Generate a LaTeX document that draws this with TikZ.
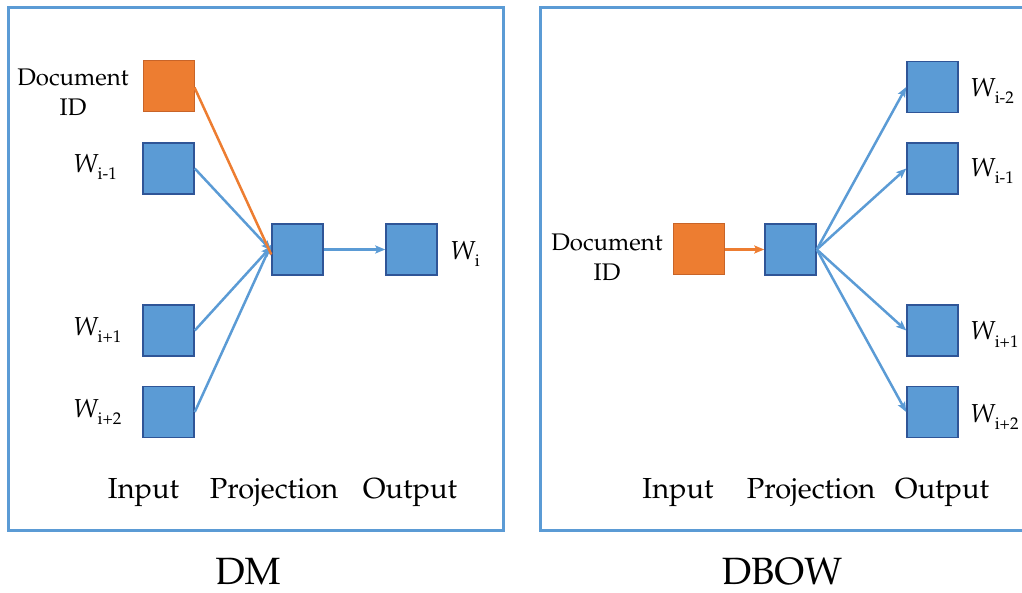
\documentclass[tikz,border=0pt]{standalone}
\usepackage[T1]{fontenc}
\usepackage{mathpazo}
\usetikzlibrary{arrows.meta}
\definecolor{boxblue}{RGB}{91,155,213}
\definecolor{boxedge}{RGB}{47,85,151}
\definecolor{boxorange}{RGB}{237,125,49}
\definecolor{orangeedge}{RGB}{200,100,40}
\definecolor{framecol}{RGB}{91,155,213}
\newcommand{\wlab}[1]{{\fontsize{26}{30}\selectfont\itshape W}\raisebox{-7pt}{\fontsize{17}{20}\selectfont #1}}
\tikzset{
  bluebox/.style={draw=boxedge, fill=boxblue, line width=1.5pt, minimum size=51pt, inner sep=0pt},
  orangebox/.style={draw=orangeedge, fill=boxorange, line width=1pt, minimum size=51pt, inner sep=0pt},
  frame/.style={draw=framecol, line width=3pt},
  bluearrow/.style={draw=boxblue, line width=2.5pt, -{Stealth[length=10pt,width=8pt,inset=2pt]}},
  orangearrow/.style={draw=boxorange, line width=2.5pt, -{Stealth[length=10pt,width=8pt,inset=2pt]}},
  plainorange/.style={draw=boxorange, line width=2.5pt},
  lab/.style={inner sep=0pt, anchor=base, font=\fontsize{29}{34}\selectfont},
  wl/.style={inner sep=0pt, anchor=base west},
  doc/.style={inner sep=0pt, align=center, font=\fontsize{24}{30}\selectfont},
  title/.style={inner sep=0pt, anchor=base, font=\fontsize{38}{44}\selectfont}
}
\begin{document}
\begin{tikzpicture}[x=1pt,y=-1pt]
\useasboundingbox (0,0) rectangle (1022,593);
% frames
\draw[frame] (8,8) rectangle (503,530);
\draw[frame] (1030,8) -- (540,8) -- (540,530) -- (1030,530);

% ---------- DM ----------
\node[orangebox] (dmdoc) at (168.5,86.5) {};
\node[bluebox] (dmw1) at (168.5,168.5) {};
\node[bluebox] (dmw3) at (168.5,330.5) {};
\node[bluebox] (dmw4) at (168.5,412) {};
\node[bluebox] (dmproj) at (297.5,249.5) {};
\node[bluebox] (dmout) at (411.5,249.5) {};

\node[doc] (dmdoclab) at (73,92) {Document\\ID};
\node[wl] (dmw1lab) at (73,173) {\wlab{i-1}};
\node[wl] (dmw3lab) at (73,335) {\wlab{i+1}};
\node[wl] (dmw4lab) at (73,417) {\wlab{i+2}};
\node[wl] (dmoutlab) at (450,260) {\wlab{i}};

\draw[bluearrow] (dmw1.east) -- ([yshift=-1pt]dmproj.west);
\draw[bluearrow] (dmw3.east) -- ([yshift=3pt]dmproj.west);
\draw[bluearrow] (dmw4.east) -- ([yshift=5pt]dmproj.west);
\draw[plainorange] ([yshift=-1pt]dmdoc.east) -- ([yshift=-5pt]dmproj.west);
\draw[bluearrow] (dmproj.east) -- (dmout.west);

\node[lab] (dmin) at (143.5,498) {Input};
\node[lab] (dmpr) at (274,498) {Projection};
\node[lab] (dmop) at (410,498) {Output};
\node[title] (dmtitle) at (248,584) {DM};

% ---------- DBOW ----------
\node[orangebox] (bdoc) at (698.5,249.5) {};
\node[bluebox] (bproj) at (790.5,249.5) {};
\node[bluebox] (bo1) at (932.5,87) {};
\node[bluebox] (bo2) at (932.5,168.5) {};
\node[bluebox] (bo3) at (932.5,330.5) {};
\node[bluebox] (bo4) at (932.5,412) {};

\node[doc] (bdoclab) at (607,257) {Document\\ID};
\node[wl] (bo1lab) at (970,97) {\wlab{i-2}};
\node[wl] (bo2lab) at (970,177) {\wlab{i-1}};
\node[wl] (bo3lab) at (970,340) {\wlab{i+1}};
\node[wl] (bo4lab) at (970,422) {\wlab{i+2}};

\draw[orangearrow] (bdoc.east) -- (bproj.west);
\draw[bluearrow] (bproj.east) -- (bo1.west);
\draw[bluearrow] (bproj.east) -- (bo2.west);
\draw[bluearrow] (bproj.east) -- (bo3.west);
\draw[bluearrow] (bproj.east) -- (bo4.west);

\node[lab] (bin) at (678,498) {Input};
\node[lab] (bpr) at (811,498) {Projection};
\node[lab] (bop) at (942,498) {Output};
\node[title] (btitle) at (782,584) {DBOW};
\end{tikzpicture}
\end{document}
